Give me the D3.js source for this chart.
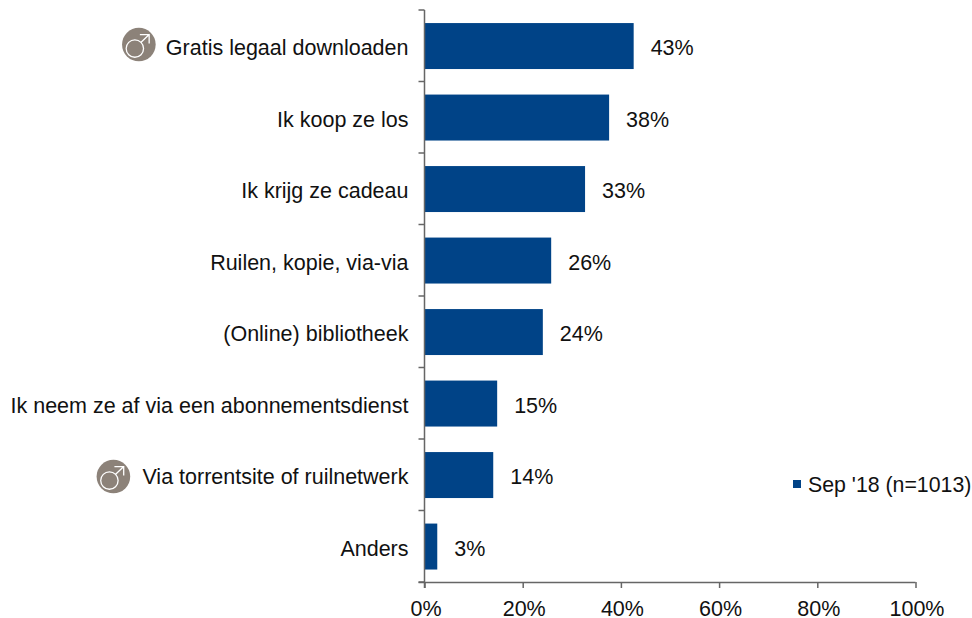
<!DOCTYPE html>
<html><head><meta charset="utf-8">
<script src="https://cdn.jsdelivr.net/npm/d3@7"></script>
<style>html,body{margin:0;padding:0;background:#fff}svg{display:block}text{font-family:"Liberation Sans",Arial,sans-serif;fill:#111}</style>
</head><body><svg id="c" width="972" height="618"></svg>
<script>
const categories = ["Gratis legaal downloaden","Ik koop ze los","Ik krijg ze cadeau","Ruilen, kopie, via-via","(Online) bibliotheek","Ik neem ze af via een abonnementsdienst","Via torrentsite of ruilnetwerk","Anders"];
const values = [42.6,37.6,32.7,25.8,24.1,14.8,14.0,2.6];
const valueLabels = ["43%","38%","33%","26%","24%","15%","14%","3%"];
const xTicks = [0,20,40,60,80,100];
const maleFlagged = ["Gratis legaal downloaden","Via torrentsite of ruilnetwerk"];
const legendLabel = "Sep '18 (n=1013)";
const blue = "#004387", axisCol = "#666", fs = 21.5;

const svg = d3.select("#c");
const x = d3.scaleLinear().domain([0,100]).range([424.5,915.5]);
const y = d3.scaleBand().domain(categories).range([10.3,582.3]).paddingInner(0.357).paddingOuter(0.1785);

svg.selectAll("rect.bar").data(categories).join("rect").attr("class","bar")
  .attr("x",x(0)).attr("y",d=>y(d)).attr("height",y.bandwidth())
  .attr("width",(d,i)=>x(values[i])-x(0)).attr("fill",blue);

const xAxis = d3.axisBottom(x).tickValues(xTicks).tickFormat(d=>d+"%").tickSize(6).tickPadding(13);
const gx = svg.append("g").attr("transform","translate(0,582)").call(xAxis);
gx.select(".domain").attr("d",`M${x(0)-6},0.5H${x(100)}`).attr("stroke",axisCol).attr("stroke-width",1.5);
gx.selectAll(".tick line").attr("stroke",axisCol).attr("stroke-width",1.5);
gx.selectAll(".tick text").attr("font-size",fs).attr("dx",1).attr("fill","#111").attr("font-family","Liberation Sans");

const bandStep = y.step();
const yTickPos = d3.range(categories.length+1).map(i=>10+i*bandStep);
const gy = svg.append("g");
gy.append("line").attr("x1",x(0)).attr("x2",x(0)).attr("y1",10).attr("y2",588).attr("stroke",axisCol).attr("stroke-width",1.5);
gy.selectAll("line.t").data(yTickPos).join("line").attr("class","t")
  .attr("x1",x(0)-6).attr("x2",x(0)).attr("y1",d=>d).attr("y2",d=>d).attr("stroke",axisCol).attr("stroke-width",1.5);

svg.selectAll("text.cat").data(categories).join("text").attr("class","cat")
  .attr("x",408.5).attr("y",d=>y(d)+y.bandwidth()/2+1.5).attr("dy","0.35em")
  .attr("text-anchor","end").attr("font-size",fs).text(d=>d);

svg.selectAll("text.val").data(categories).join("text").attr("class","val")
  .attr("x",(d,i)=>x(values[i])+17).attr("y",d=>y(d)+y.bandwidth()/2+1.5).attr("dy","0.35em")
  .attr("font-size",fs).text((d,i)=>valueLabels[i]);

const textNodes = svg.selectAll("text.cat").nodes();
const iconShift = [[-27,-1.5],[-29,1.5]];
maleFlagged.forEach((name,k)=>{
  const node = textNodes[categories.indexOf(name)];
  const left = node.getBBox().x;
  const g = svg.append("g").attr("transform",`translate(${left+iconShift[k][0]},${y(name)+y.bandwidth()/2+iconShift[k][1]})`);
  g.append("circle").attr("r",16.8).attr("fill","#8c8279");
  g.append("circle").attr("cx",-4).attr("cy",4).attr("r",8.7).attr("fill","none").attr("stroke","#fff").attr("stroke-width",1.3);
  g.append("path").attr("d","M2,-2L10.3,-10M1,-10H10.3V-1").attr("fill","none").attr("stroke","#fff").attr("stroke-width",1.3);
});

svg.append("rect").attr("x",793).attr("y",480).attr("width",8).attr("height",8).attr("fill",blue);
svg.append("text").attr("x",808).attr("y",485).attr("dy","0.35em").attr("font-size",21.3).text(legendLabel);
</script></body></html>
